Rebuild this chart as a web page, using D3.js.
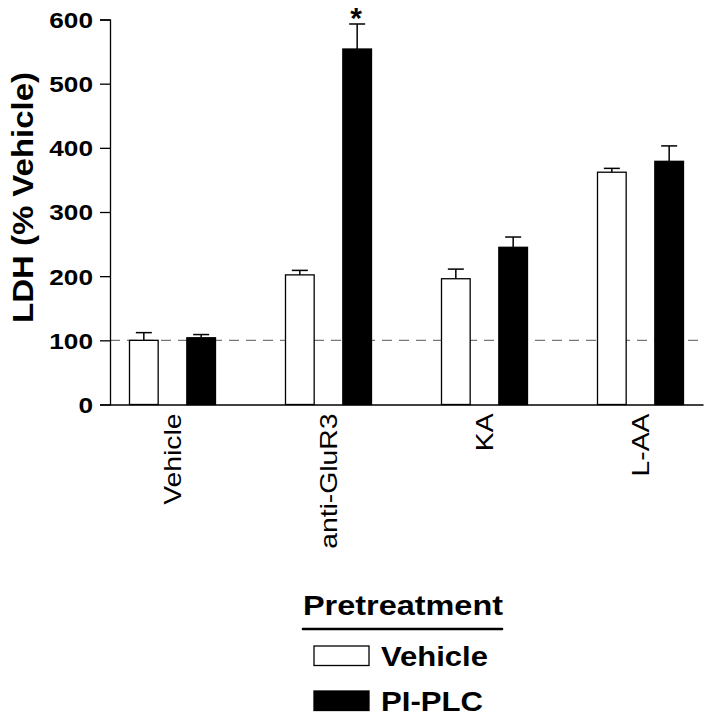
<!DOCTYPE html>
<html><head><meta charset="utf-8">
<script src="https://cdn.jsdelivr.net/npm/d3@7"></script>
<style>body{margin:0;background:#fff}svg{display:block}text{font-family:Arial,"Liberation Sans",Helvetica,sans-serif}</style>
</head><body>
<svg id="c" width="716" height="719"></svg>
<script>
const categories = ["Vehicle", "anti-GluR3", "KA", "L-AA"];
const seriesNames = ["Vehicle", "PI-PLC"];
const vehicleMean = [100, 202, 196, 362];
const vehicleErr  = [12, 7, 15, 6];
const plcMean     = [104, 554, 245, 379];
const plcErr      = [5, 39, 16, 24];
const yTicks = [0, 100, 200, 300, 400, 500, 600];
const significant = [false, true, false, false];

(function () {
const svg = d3.select("#c");
const mLeft = 110, mRight = 703, mTop = 19.5, mBottom = 404.5;
const y = d3.scaleLinear().domain([0, 600]).range([mBottom, mTop]);
const x0 = d3.scaleBand().domain(categories).range([94.5, 94.5 + 624]).paddingInner(0).paddingOuter(0);
const x1 = d3.scaleBand().domain(seriesNames).range([0, 86]).paddingInner(0.5).paddingOuter(0);
const groupOffset = (x0.bandwidth() - 86) / 2;

function widen(sel, f) {
  sel.each(function () {
    const w = this.getComputedTextLength();
    d3.select(this).attr("textLength", w * f).attr("lengthAdjust", "spacingAndGlyphs");
  });
}

svg.append("line").attr("x1", mLeft).attr("x2", mRight).attr("y1", y(100)).attr("y2", y(100))
  .attr("stroke", "#777").attr("stroke-width", 1.2).attr("stroke-dasharray", "10,7");

const data = [];
categories.forEach((c, i) => {
  data.push({c, s: "Vehicle", v: vehicleMean[i], e: vehicleErr[i], i});
  data.push({c, s: "PI-PLC", v: plcMean[i], e: plcErr[i], i});
});
const bx = d => x0(d.c) + groupOffset + x1(d.s);
const bw = x1.bandwidth();

const eg = svg.append("g").attr("stroke", "#000").attr("stroke-width", 1.5);
data.forEach(d => {
  const cx = bx(d) + bw / 2;
  eg.append("line").attr("x1", cx).attr("x2", cx).attr("y1", y(d.v)).attr("y2", y(d.v + d.e));
  eg.append("line").attr("x1", cx - 8).attr("x2", cx + 8).attr("y1", y(d.v + d.e)).attr("y2", y(d.v + d.e));
});

svg.append("g").selectAll("rect").data(data).join("rect")
  .attr("x", bx).attr("width", bw)
  .attr("y", d => y(d.v)).attr("height", d => y(0) - y(d.v))
  .attr("fill", d => d.s === "Vehicle" ? "#fff" : "#000")
  .attr("stroke", "#000").attr("stroke-width", 1.3);

data.filter(d => d.s === "PI-PLC" && significant[d.i]).forEach(d => {
  svg.append("text").attr("x", bx(d) + bw / 2 - 1).attr("y", y(d.v + d.e) + 4)
    .attr("text-anchor", "middle").attr("font-size", 30).attr("font-weight", "bold").text("*");
});

const yAxis = svg.append("g").attr("transform", `translate(${mLeft},0)`)
  .call(d3.axisLeft(y).tickValues(yTicks).tickSize(10).tickPadding(7));
yAxis.select(".domain").attr("stroke-width", 1.3);
yAxis.selectAll(".tick line").attr("stroke-width", 1.3);
const yt = yAxis.selectAll("text").attr("font-size", 22).attr("font-weight", "bold").attr("fill", "#000").attr("dy", "0.36em");
widen(yt, 1.19);

const xAxis = svg.append("g").attr("transform", `translate(0,${mBottom})`)
  .call(d3.axisBottom(d3.scaleLinear().domain([0,1]).range([mLeft, mRight])).ticks(0).tickSizeOuter(0));
xAxis.select(".domain").attr("stroke-width", 1.3);

const xl = svg.append("g").selectAll("text").data(categories).join("text")
  .attr("transform", c => `translate(${x0(c) + x0.bandwidth() / 2 + 8.5},${mBottom + 9}) rotate(-90)`)
  .attr("text-anchor", "end").attr("font-size", 24).text(c => c);
widen(xl, 1.18);

svg.append("text").attr("transform", `translate(33,197.5) rotate(-90)`)
  .attr("text-anchor", "middle").attr("font-size", 29).attr("font-weight", "bold")
  .attr("textLength", 251).attr("lengthAdjust", "spacingAndGlyphs").text("LDH (% Vehicle)");

const lg = svg.append("g");
lg.append("text").attr("x", 303).attr("y", 615)
  .attr("font-size", 28).attr("font-weight", "bold")
  .attr("textLength", 200).attr("lengthAdjust", "spacingAndGlyphs").text("Pretreatment");
lg.append("line").attr("x1", 303).attr("x2", 502).attr("y1", 629).attr("y2", 629)
  .attr("stroke", "#000").attr("stroke-width", 2.6).attr("stroke-linecap", "round");
const legendLen = [107, 102];
seriesNames.forEach((s, i) => {
  const yy = 646 + i * 45;
  lg.append("rect").attr("x", 314).attr("y", yy).attr("width", 55).attr("height", 19.5)
    .attr("fill", s === "Vehicle" ? "#fff" : "#000").attr("stroke", "#000").attr("stroke-width", 1.3);
  lg.append("text").attr("x", 381).attr("y", yy + 19.5).attr("font-size", 28).attr("font-weight", "bold")
    .attr("textLength", legendLen[i]).attr("lengthAdjust", "spacingAndGlyphs").text(s);
});
})();
</script>
</body></html>
